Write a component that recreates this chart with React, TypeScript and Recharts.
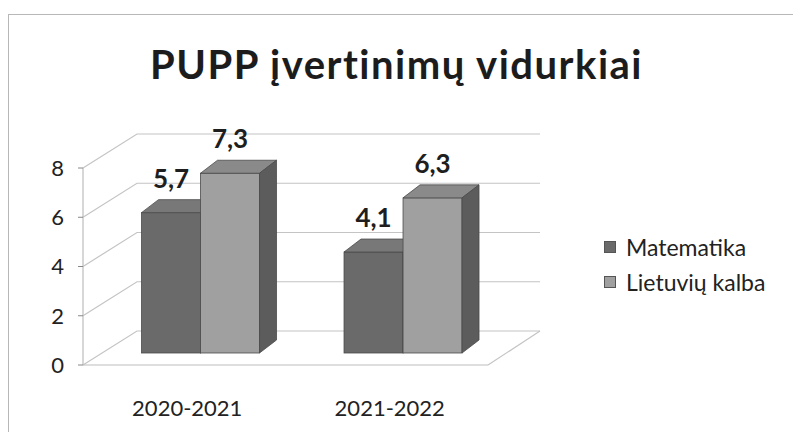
import { Bar, BarChart, CartesianGrid, LabelList, XAxis, YAxis } from 'recharts';

const years = ['2020-2021', '2021-2022'];
const matematika = [5.7, 4.1];
const lietuviu = [7.3, 6.3];
const yTicks = [0, 2, 4, 6, 8];

const seriesMeta = [
  { key: 'mat', name: 'Matematika', front: '#6a6a6a', top: '#787878', side: '#525252' },
  { key: 'lt', name: 'Lietuvių kalba', front: '#a0a0a0', top: '#8a8a8a', side: '#5c5c5c' },
];

const data = years.map((year, i) => ({ year, mat: matematika[i], lt: lietuviu[i] }));

const FONT = 'Lato, "Open Sans", sans-serif';
// pseudo-3d: bars sit a bit back from the front plane
const OX = 16;
const OY = -12;
const DX = 17;
const DY = -13;
// depth of the back wall
const WX = 54;
const WY = -34;

function prism(colors: { front: string; top: string; side: string }) {
  return (props: any) => {
    const { x, y, width: w, height: h } = props;
    if (w == null || h == null) return null;
    const fx = x + OX;
    const fy = y + OY;
    const top = `${fx},${fy} ${fx + DX},${fy + DY} ${fx + w + DX},${fy + DY} ${fx + w},${fy}`;
    const side = `${fx + w},${fy} ${fx + w + DX},${fy + DY} ${fx + w + DX},${fy + h + DY} ${fx + w},${fy + h}`;
    return (
      <g stroke="#4a4a4a" strokeWidth={0.8}>
        <rect x={fx} y={fy} width={w} height={h} fill={colors.front} />
        <polygon points={top} fill={colors.top} />
        <polygon points={side} fill={colors.side} />
      </g>
    );
  };
}

function valueLabel(props: any) {
  const { x, y, width, value } = props;
  return (
    <text
      x={x + OX + width / 2}
      y={y + OY - 25}
      textAnchor="middle"
      fontFamily={FONT}
      fontWeight={700}
      fontSize={26}
      fill="#1e1e1e"
    >
      {String(value).replace('.', ',')}
    </text>
  );
}

function wallLine(props: any) {
  const { x1, y1, x2, index } = props;
  const pts = `${x1},${y1} ${x1 + WX},${y1 + WY} ${x2 + WX - 2},${y1 + WY}`;
  return (
    <g key={`g-${index}`}>
      <polyline points={pts} fill="none" stroke="#c4c4c4" strokeWidth={1.2} />
      {index === 0 && (
        <line x1={x2} y1={y1} x2={x2 + WX - 2} y2={y1 + WY} stroke="#c4c4c4" strokeWidth={1.2} />
      )}
    </g>
  );
}

export default function App() {
  return (
    <div style={{ position: 'absolute', left: 0, top: 0, width: 793, height: 432, background: '#fff', overflow: 'hidden' }}>
      <div
        style={{
          position: 'absolute',
          left: 8,
          top: 14,
          width: 800,
          height: 430,
          borderTop: '1px solid #b8b8b8',
          borderLeft: '1px solid #b8b8b8',
        }}
      />
      <div
        style={{
          position: 'absolute',
          top: 40,
          left: 0,
          width: 793,
          textAlign: 'center',
          fontFamily: FONT,
          fontWeight: 700,
          fontSize: 40,
          letterSpacing: 1.5,
          color: '#1c1c1c',
        }}
      >
        PUPP įvertinimų vidurkiai
      </div>
      <div style={{ position: 'absolute', left: 0, top: 0 }}>
        <BarChart
          width={793}
          height={432}
          data={data}
          margin={{ top: 168, right: 305, bottom: 37, left: 43 }}
          barCategoryGap="21%"
          barGap={0}
        >
          <CartesianGrid horizontal={wallLine} vertical={false} />
          <XAxis
            dataKey="year"
            axisLine={{ stroke: '#bdbdbd', strokeWidth: 1.2 }}
            tickLine={false}
            tickMargin={29}
            tick={{ fontFamily: FONT, fontSize: 22, fill: '#222', dx: 3 }}
          />
          <YAxis
            domain={[0, 8]}
            ticks={yTicks}
            width={40}
            axisLine={{ stroke: '#bdbdbd', strokeWidth: 1.2 }}
            tickLine={{ stroke: '#888' }}
            tickSize={5}
            tickMargin={14}
            tick={{ fontFamily: FONT, fontSize: 22, fill: '#222' }}
          />
          {seriesMeta.map((s) => (
            <Bar
              key={s.key}
              dataKey={s.key}
              name={s.name}
              fill={s.front}
              shape={prism(s)}
              isAnimationActive={false}
            >
              <LabelList dataKey={s.key} content={valueLabel} />
            </Bar>
          ))}
        </BarChart>
      </div>
      <div style={{ position: 'absolute', left: 604, top: 229, fontFamily: FONT, fontSize: 23, color: '#222' }}>
        {seriesMeta.map((s) => (
          <div key={s.key} style={{ display: 'flex', alignItems: 'center', height: 35 }}>
            <span
              style={{
                display: 'inline-block',
                width: 10,
                height: 10,
                background: s.front,
                border: '1px solid #555',
                marginRight: 10,
              }}
            />
            {s.name}
          </div>
        ))}
      </div>
    </div>
  );
}
